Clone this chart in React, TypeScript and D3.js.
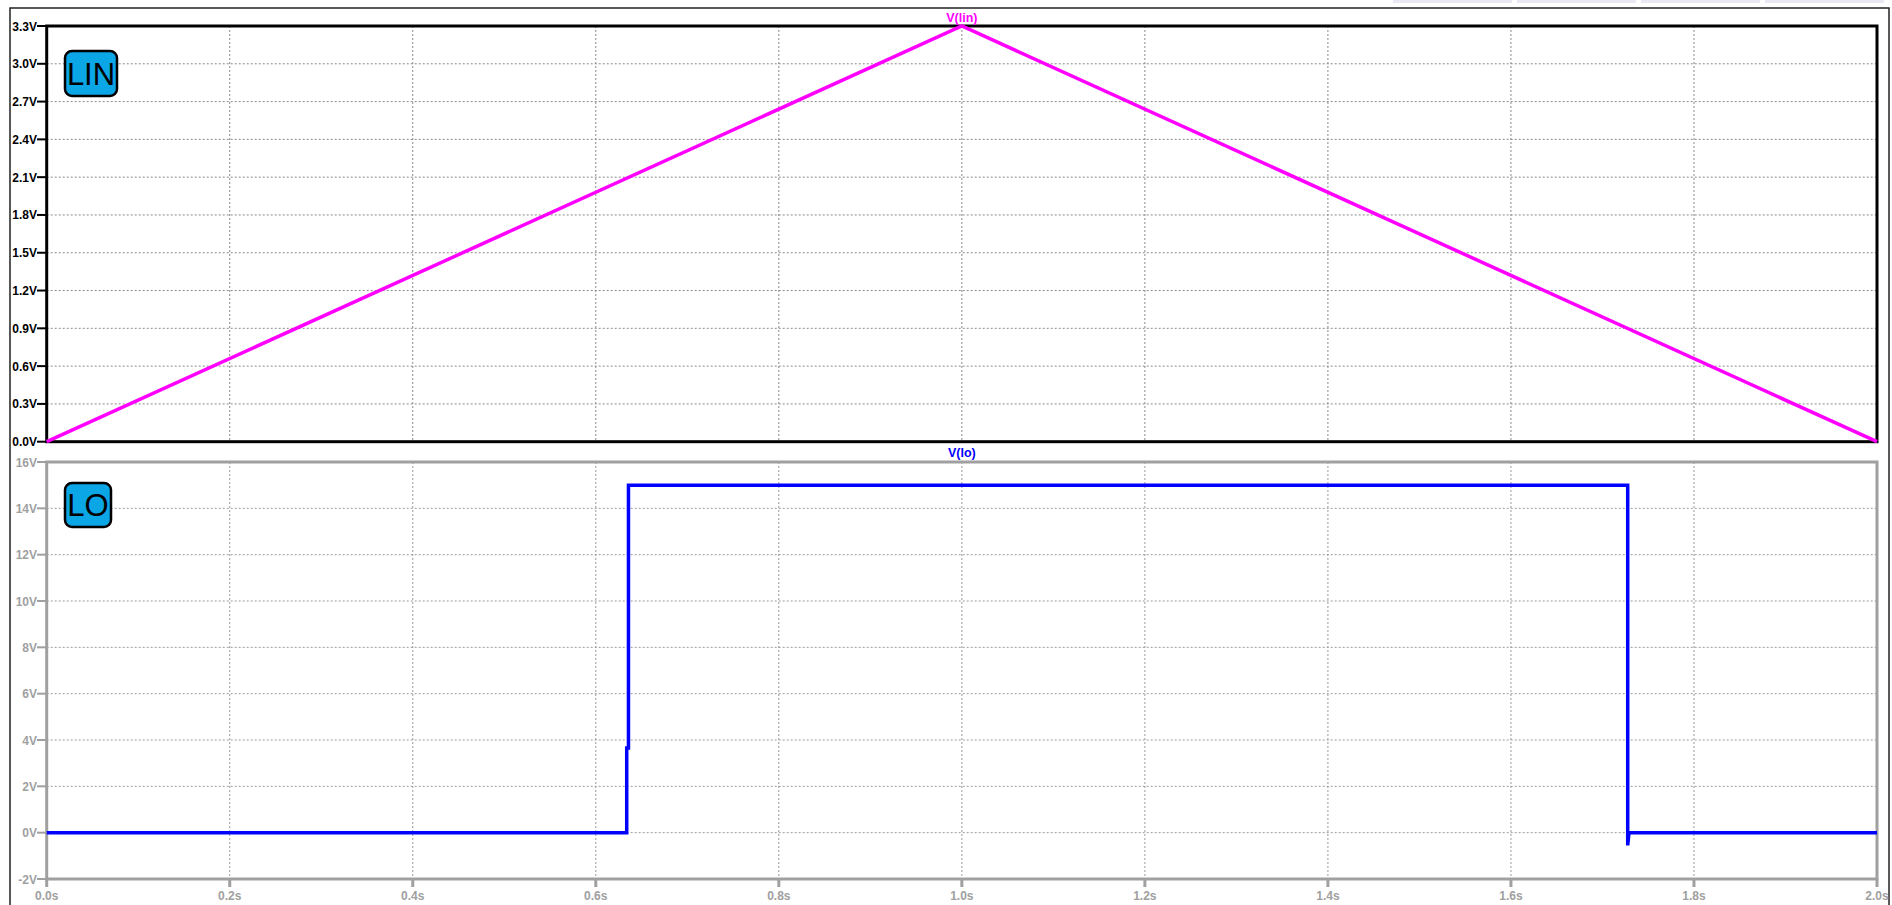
import React from "react";
import * as d3 from "d3";

// V(lin): triangular sweep
const linTime = [0, 1.0, 2.0];
const linVolt = [0, 3.3, 0];

// V(lo): comparator output
const loTime = [0, 0.6338, 0.6338, 0.6357, 0.6357, 1.7276, 1.7276, 1.729, 2.0];
const loVolt = [0, 0, 3.66, 3.66, 15, 15, -0.55, 0, 0];

const timeTicks = [0, 0.2, 0.4, 0.6, 0.8, 1.0, 1.2, 1.4, 1.6, 1.8, 2.0];
const linTicks = [0, 0.3, 0.6, 0.9, 1.2, 1.5, 1.8, 2.1, 2.4, 2.7, 3.0, 3.3];
const loTicks = [-2, 0, 2, 4, 6, 8, 10, 12, 14, 16];

const W = 1892;
const H = 905;
const X0 = 46.7;
const X1 = 1877;
const FONT = "'Liberation Sans', Arial, sans-serif";

const x = d3.scaleLinear().domain([0, 2]).range([X0, X1]);
const yLin = d3.scaleLinear().domain([0, 3.3]).range([441.7, 26]);
const yLo = d3.scaleLinear().domain([-2, 16]).range([879, 462]);

const toPts = (t: number[], v: number[]) => t.map((tt, i) => [tt, v[i]] as [number, number]);

type PanelProps = {
  y: d3.ScaleLinear<number, number>;
  ticks: number[];
  fmt: (v: number) => string;
  axisColor: string;
  labelColor: string;
  gridColor: string;
  title: string;
  titleColor: string;
  titleY: number;
  data: [number, number][];
  lineColor: string;
  tag: string;
  tagBox: { x: number; y: number; w: number; h: number };
  timeLabels: boolean;
};

function Panel(p: PanelProps) {
  const [yb, yt] = p.y.range();
  const line = d3
    .line<[number, number]>()
    .x((d) => x(d[0]))
    .y((d) => p.y(d[1]));
  return (
    <g>
      {/* grid */}
      {timeTicks.slice(1, -1).map((t) => (
        <line key={"vg" + t} x1={x(t)} x2={x(t)} y1={yt} y2={yb} stroke={p.gridColor} strokeWidth={1} strokeDasharray="2,2" />
      ))}
      {p.ticks.slice(1, -1).map((v) => (
        <line key={"hg" + v} x1={X0} x2={X1} y1={p.y(v)} y2={p.y(v)} stroke={p.gridColor} strokeWidth={1} strokeDasharray="2,2" />
      ))}
      {/* y ticks & labels */}
      {p.ticks.map((v) => (
        <g key={"yt" + v}>
          <line x1={37} x2={X0} y1={p.y(v)} y2={p.y(v)} stroke={p.axisColor} strokeWidth={2} />
          <text x={37} y={p.y(v) + 4.5} textAnchor="end" fontFamily={FONT} fontWeight="bold" fontSize={12} fill={p.labelColor}>
            {p.fmt(v)}
          </text>
        </g>
      ))}
      {p.timeLabels &&
        timeTicks.map((t) => (
          <g key={"xt" + t}>
            <line x1={x(t)} x2={x(t)} y1={yb} y2={yb + 8} stroke={p.axisColor} strokeWidth={3} />
            <text x={x(t)} y={900} textAnchor="middle" fontFamily={FONT} fontWeight="bold" fontSize={12} fill={p.labelColor}>
              {t.toFixed(1) + "s"}
            </text>
          </g>
        ))}
      {/* frame */}
      <rect x={X0} y={yt} width={X1 - X0} height={yb - yt} fill="none" stroke={p.axisColor} strokeWidth={3} />
      {/* trace */}
      <path d={line(p.data) || ""} fill="none" stroke={p.lineColor} strokeWidth={3.5} strokeLinejoin="miter" />
      {/* trace name */}
      <text x={(X0 + X1) / 2} y={p.titleY} textAnchor="middle" fontFamily={FONT} fontWeight="bold" fontSize={12.5} fill={p.titleColor}>
        {p.title}
      </text>
      {/* net tag */}
      <rect x={p.tagBox.x} y={p.tagBox.y} width={p.tagBox.w} height={p.tagBox.h} rx={7} ry={7} fill="#0aa6e6" stroke="#000" strokeWidth={2.5} />
      <text
        x={p.tagBox.x + p.tagBox.w / 2}
        y={p.tagBox.y + p.tagBox.h / 2 + 11}
        textAnchor="middle"
        fontFamily={FONT}
        fontSize={31}
        fill="#000"
      >
        {p.tag}
      </text>
    </g>
  );
}

export default function App() {
  const tabs = [
    [1393, 1512],
    [1517, 1636],
    [1641, 1760],
    [1765, 1884],
  ];
  return (
    <svg
      width={W}
      height={H}
      viewBox={`0 0 ${W} ${H}`}
      style={{ position: "fixed", left: 0, top: 0, background: "#fff" }}
    >
      <rect x={0} y={0} width={W} height={H} fill="#fff" />
      {tabs.map(([a, b]) => (
        <rect key={a} x={a} y={0} width={b - a} height={3} fill="#e9e9f4" />
      ))}
      <rect x={10} y={8} width={1879} height={H} fill="none" stroke="#222" strokeWidth={1.5} />
      <Panel
        y={yLin}
        ticks={linTicks}
        fmt={(v) => v.toFixed(1) + "V"}
        axisColor="#000"
        labelColor="#000"
        gridColor="#8a8a8a"
        title="V(lin)"
        titleColor="#ff00ff"
        titleY={22}
        data={toPts(linTime, linVolt)}
        lineColor="#ff00ff"
        tag="LIN"
        tagBox={{ x: 65, y: 51, w: 52, h: 45 }}
        timeLabels={false}
      />
      <Panel
        y={yLo}
        ticks={loTicks}
        fmt={(v) => v + "V"}
        axisColor="#a0a0a0"
        labelColor="#a0a0a0"
        gridColor="#9a9a9a"
        title="V(lo)"
        titleColor="#0000ff"
        titleY={457}
        data={toPts(loTime, loVolt)}
        lineColor="#0000ff"
        tag="LO"
        tagBox={{ x: 65, y: 483, w: 46, h: 44 }}
        timeLabels={true}
      />
    </svg>
  );
}
